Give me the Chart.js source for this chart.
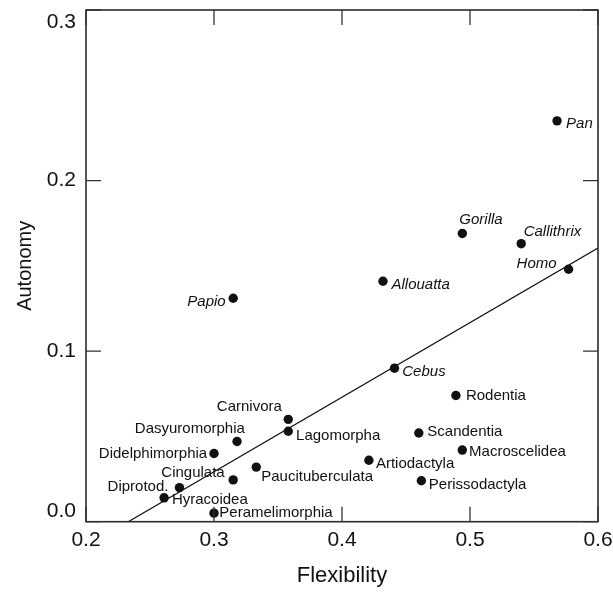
<!DOCTYPE html>
<html><head><meta charset="utf-8">
<script src="https://cdn.jsdelivr.net/npm/chart.js@4/dist/chart.umd.min.js"></script>
<style>html,body{margin:0;padding:0;background:#fff;overflow:hidden}#wrap{width:613px;height:592px}</style>
</head><body><div id="wrap"><canvas id="c" width="613" height="592"></canvas></div>
<script>
// ---- data ----
const taxa = ['Pan','Gorilla','Callithrix','Homo','Allouatta','Papio','Cebus','Rodentia','Carnivora','Lagomorpha','Dasyuromorphia','Didelphimorphia','Scandentia','Macroscelidea','Artiodactyla','Paucituberculata','Cingulata','Perissodactyla','Diprotod.','Hyracoidea','Peramelimorphia'];
const flexibility = [0.568,0.494,0.540,0.577,0.432,0.315,0.441,0.489,0.358,0.358,0.318,0.300,0.460,0.494,0.421,0.333,0.315,0.462,0.273,0.261,0.300];
const autonomy = [0.235,0.169,0.163,0.148,0.141,0.131,0.090,0.074,0.060,0.053,0.047,0.040,0.052,0.042,0.036,0.032,0.0245,0.024,0.020,0.014,0.005];
const fitX = [0.233, 0.6];
const fitY = [0.0, 0.1604];
const xTicks = [0.2, 0.3, 0.4, 0.5, 0.6];
const yTicks = [0.0, 0.1, 0.2, 0.3];

// ---- label styling (placement: text side, dx, dy in px; italic for genera) ----
const labelStyle = [
  ['left',9,3,true],['left',-3,-13.5,true],['left',2.5,-12,true],['right',-12,-5,true],
  ['left',8.5,4,true],['right',-7.5,4,true],['left',7.8,3.4,true],['left',10,0,false],
  ['right',-6.4,-13,false],['left',7.8,5,false],['right',7.8,-12.5,false],['right',-6.8,0,false],
  ['left',8.5,-1,false],['left',6.8,1.4,false],['left',7,4,false],['left',5,10,false],
  ['right',-8.5,-6.8,false],['left',7.5,4,false],['right',-11,-0.7,false],['left',7.8,1.7,false],
  ['left',5.3,0,false]
];
const FONT = '"Liberation Sans", Arial, Helvetica, sans-serif';

const framePlugin = {
  id: 'frame',
  afterDatasetsDraw(chart) {
    const ctx = chart.ctx, a = chart.chartArea;
    const xs = chart.scales.x, ys = chart.scales.y;
    ctx.save();
    // frame
    ctx.strokeStyle = '#2a2a2a'; ctx.lineWidth = 1.6;
    ctx.strokeRect(a.left, a.top, a.right - a.left, a.bottom - a.top);
    // inward tick marks
    ctx.lineWidth = 1.3; ctx.strokeStyle = '#333';
    const TL = 15;
    ctx.beginPath();
    xTicks.forEach(v => {
      const p = xs.getPixelForValue(v);
      ctx.moveTo(p, a.bottom); ctx.lineTo(p, a.bottom - TL);
      ctx.moveTo(p, a.top); ctx.lineTo(p, a.top + TL);
    });
    yTicks.forEach(v => {
      const p = ys.getPixelForValue(v);
      ctx.moveTo(a.left, p); ctx.lineTo(a.left + TL, p);
      ctx.moveTo(a.right, p); ctx.lineTo(a.right - TL, p);
    });
    ctx.stroke();
    ctx.fillStyle = '#111';
    ctx.font = '21px ' + FONT;
    // x tick labels
    ctx.textAlign = 'center'; ctx.textBaseline = 'middle';
    xTicks.forEach(v => {
      ctx.fillText(v.toFixed(1), xs.getPixelForValue(v), a.bottom + 18.5);
    });
    // y tick labels (end labels pulled inside the frame)
    ctx.textAlign = 'right';
    yTicks.forEach((v, i) => {
      let p = ys.getPixelForValue(v);
      if (i === 0) p -= 10;
      if (i === yTicks.length - 1) p += 12;
      ctx.fillText(v.toFixed(1), a.left - 10, p);
    });
    // point labels
    const meta = chart.getDatasetMeta(0);
    meta.data.forEach((el, i) => {
      const [side, dx, dy, it] = labelStyle[i];
      ctx.font = (it ? 'italic ' : '') + '15px ' + FONT;
      ctx.textAlign = side;
      ctx.fillText(taxa[i], el.x + dx, el.y + dy);
    });
    ctx.restore();
  }
};

new Chart(document.getElementById('c'), {
  type: 'scatter',
  data: {
    datasets: [
      {
        data: flexibility.map((x, i) => ({x: x, y: autonomy[i]})),
        backgroundColor: '#111', borderWidth: 0, pointRadius: 4.7, pointHoverRadius: 4.7
      },
      {
        data: fitX.map((x, i) => ({x: x, y: fitY[i]})),
        showLine: true, borderColor: '#111', borderWidth: 1.3, pointRadius: 0, fill: false
      }
    ]
  },
  options: {
    responsive: false, animation: false, devicePixelRatio: 1,
    layout: {padding: {top: 10, right: 15, left: 0, bottom: 0}},
    plugins: {legend: {display: false}, tooltip: {enabled: false}},
    scales: {
      x: {
        type: 'linear', position: 'bottom', min: 0.2, max: 0.6,
        afterBuildTicks: s => { s.ticks = xTicks.map(v => ({value: v})); },
        afterFit: s => { s.height = 70.3; },
        ticks: {display: false},
        grid: {display: false, drawTicks: false}, border: {display: false},
        title: {display: true, text: 'Flexibility', font: {size: 22, family: FONT}, color: '#111', padding: {top: 0, bottom: 3}}
      },
      y: {
        type: 'linear', position: 'left', min: 0, max: 0.3,
        afterBuildTicks: s => { s.ticks = yTicks.map(v => ({value: v})); },
        afterFit: s => { s.width = 86; },
        ticks: {display: false},
        grid: {display: false, drawTicks: false}, border: {display: false},
        title: {display: true, text: 'Autonomy', font: {size: 20, family: FONT}, color: '#111', padding: {top: 13, bottom: 0}}
      }
    }
  },
  plugins: [framePlugin]
});
</script></body></html>
